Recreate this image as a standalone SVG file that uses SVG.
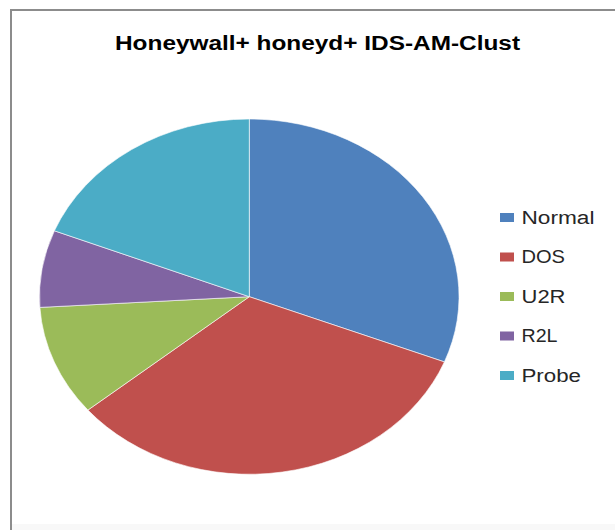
<svg xmlns="http://www.w3.org/2000/svg" width="615" height="530" viewBox="0 0 615 530">
<style>
.title{font-family:"Liberation Sans",Arial,sans-serif;font-weight:bold;font-size:20px;fill:#000}
.leg{font-family:"Liberation Sans",Arial,sans-serif;font-size:18px;fill:#262626}
.slice{stroke:#ffffff;stroke-width:0.6}
</style>
<rect x="0" y="0" width="615" height="530" fill="#ffffff"/>
<rect x="11" y="524" width="604" height="6" fill="#f8f8f8"/>
<path d="M11 530 V10 H615" fill="none" stroke="#8c8c8c" stroke-width="2"/>
<text class="title" x="115" y="50" textLength="405" lengthAdjust="spacingAndGlyphs">Honeywall+ honeyd+ IDS-AM-Clust</text>
<g id="pie">
<g id="slice-normal"><path class="slice" fill="#4F81BD" d="M249.3 296.7 L249.3 119 A209.8 177.7 0 0 1 444.4 361.9 Z"/></g>
<g id="slice-dos"><path class="slice" fill="#C0504D" d="M249.3 296.7 L444.4 361.9 A209.8 177.7 0 0 1 87.9 410.1 Z"/></g>
<g id="slice-u2r"><path class="slice" fill="#9BBB59" d="M249.3 296.7 L87.9 410.1 A209.8 177.7 0 0 1 39.9 307.4 Z"/></g>
<g id="slice-r2l"><path class="slice" fill="#8064A2" d="M249.3 296.7 L39.9 307.4 A209.8 177.7 0 0 1 54.4 230.8 Z"/></g>
<g id="slice-probe"><path class="slice" fill="#4BACC6" d="M249.3 296.7 L54.4 230.8 A209.8 177.7 0 0 1 249.3 119 Z"/></g>
</g>
<g id="legend">
<g id="leg-normal"><rect x="500" y="213" width="14" height="9" fill="#4F81BD"/><text class="leg" x="521.5" y="223.5" textLength="73" lengthAdjust="spacingAndGlyphs">Normal</text></g>
<g id="leg-dos"><rect x="500" y="252.5" width="14" height="9" fill="#C0504D"/><text class="leg" x="521.5" y="263" textLength="43.5" lengthAdjust="spacingAndGlyphs">DOS</text></g>
<g id="leg-u2r"><rect x="500" y="292" width="14" height="9" fill="#9BBB59"/><text class="leg" x="521.5" y="302.5" textLength="44" lengthAdjust="spacingAndGlyphs">U2R</text></g>
<g id="leg-r2l"><rect x="500" y="331.5" width="14" height="9" fill="#8064A2"/><text class="leg" x="521.5" y="342" textLength="36" lengthAdjust="spacingAndGlyphs">R2L</text></g>
<g id="leg-probe"><rect x="500" y="371" width="14" height="9" fill="#4BACC6"/><text class="leg" x="521.5" y="381.5" textLength="59.5" lengthAdjust="spacingAndGlyphs">Probe</text></g>
</g>
</svg>
